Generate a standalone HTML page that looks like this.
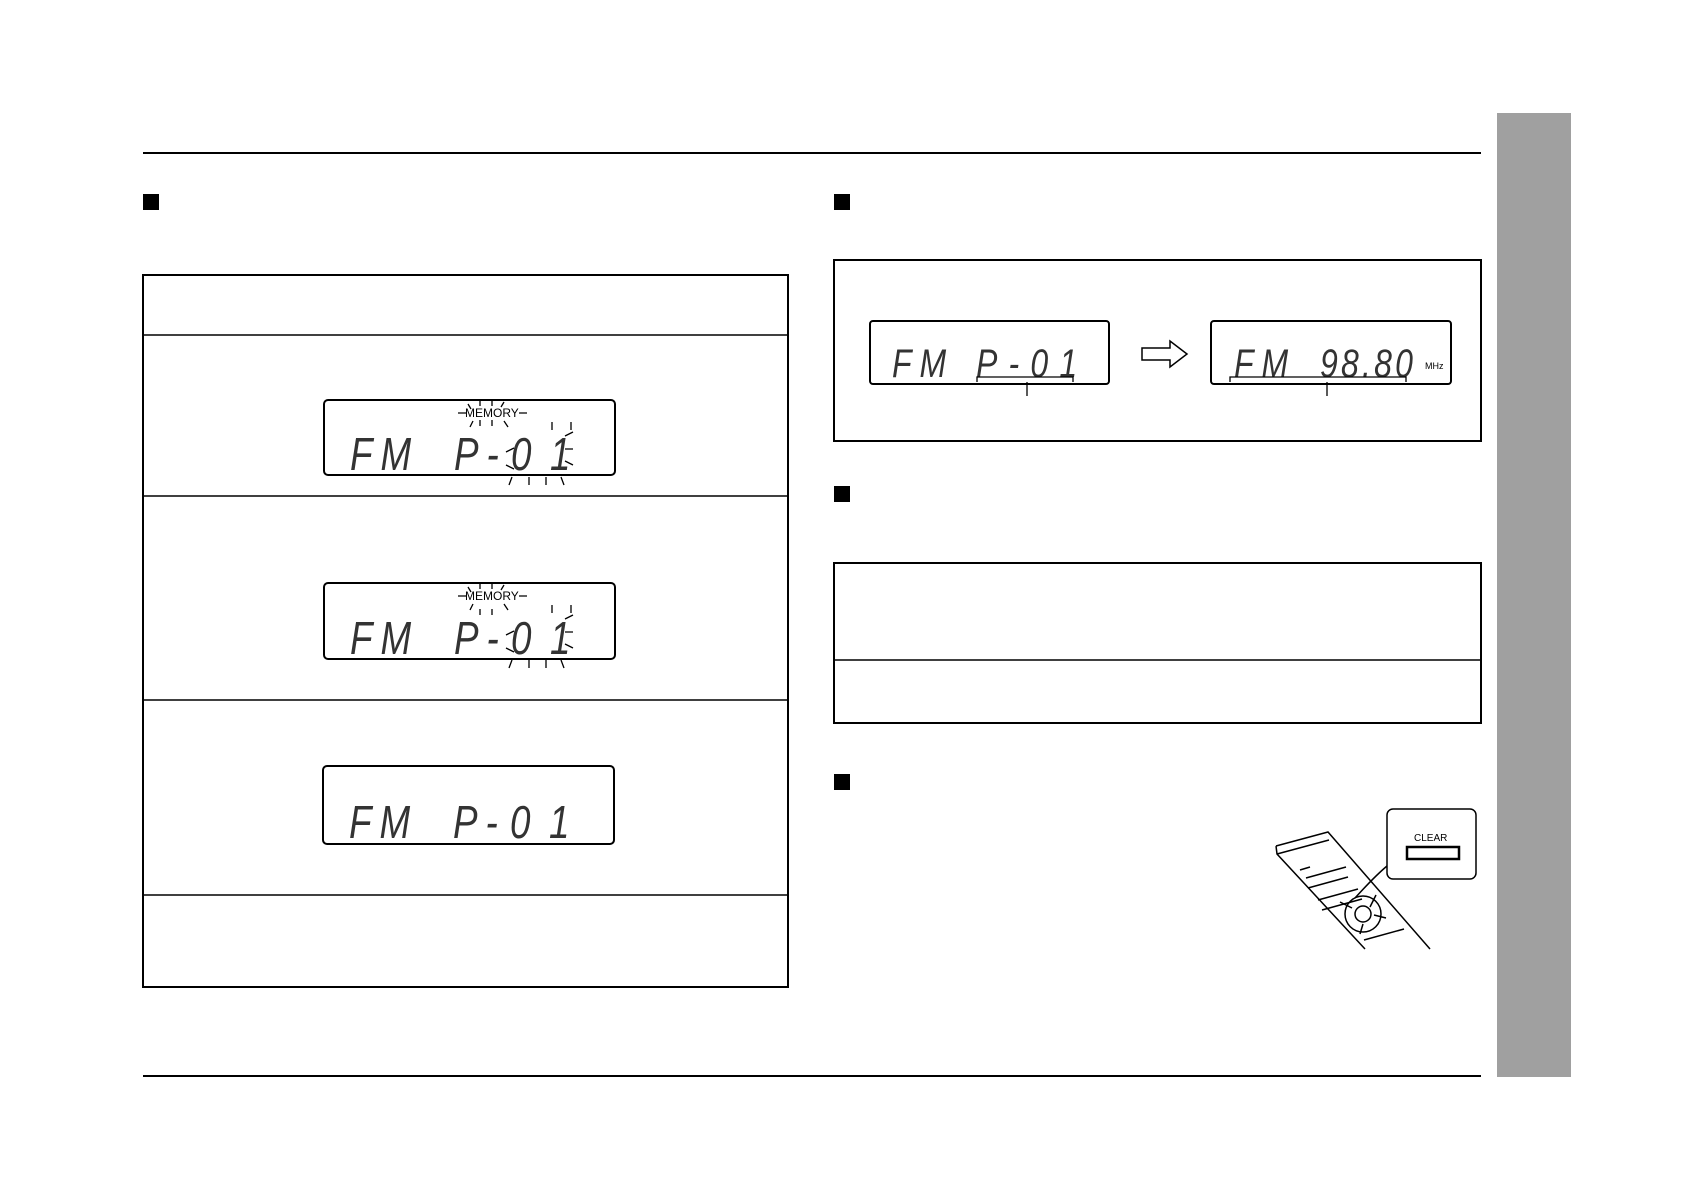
<!DOCTYPE html>
<html><head><meta charset="utf-8"><style>
html,body{margin:0;padding:0;background:#fff}
svg{display:block}
.d{font-family:"Liberation Sans",sans-serif;font-style:italic;fill:#333;font-size:46px;letter-spacing:10px}
</style></head><body>
<svg width="1684" height="1190" viewBox="0 0 1684 1190" xmlns="http://www.w3.org/2000/svg">
<rect x="1497" y="113" width="74" height="964" fill="#a0a0a0"/>
<line x1="143" y1="153" x2="1481" y2="153" stroke="#000" stroke-width="2"/>
<line x1="143" y1="1076" x2="1481" y2="1076" stroke="#000" stroke-width="2"/>
<rect x="143" y="194" width="16" height="16" fill="#000"/>
<rect x="834" y="194" width="16" height="16" fill="#000"/>
<rect x="834" y="486" width="16" height="16" fill="#000"/>
<rect x="834" y="774" width="16" height="16" fill="#000"/>
<g fill="none" stroke="#000" stroke-width="2">
<rect x="143" y="275" width="645" height="712"/>
<line x1="143" y1="335" x2="788" y2="335" stroke-width="1.5"/>
<line x1="143" y1="496" x2="788" y2="496" stroke-width="1.5"/>
<line x1="143" y1="700" x2="788" y2="700" stroke-width="1.5"/>
<line x1="143" y1="895" x2="788" y2="895" stroke-width="1.5"/>
<rect x="324" y="400" width="291" height="75" rx="4"/>
<rect x="324" y="583" width="291" height="76" rx="4"/>
<rect x="323" y="766" width="291" height="78" rx="4"/>
<rect x="834" y="260" width="647" height="181"/>
<rect x="870" y="321" width="239" height="63" rx="3"/>
<rect x="1211" y="321" width="240" height="63" rx="3"/>
<rect x="834" y="563" width="647" height="160"/>
<line x1="834" y1="660" x2="1481" y2="660" stroke-width="1.5"/>
</g>
<g class="d">
<text x="350" y="470" transform="translate(350 0) scale(0.8 1) translate(-350 0)">FM</text>
<text x="454" y="470" transform="translate(454 0) scale(0.8 1) translate(-454 0)">P-</text>
<text x="511" y="470" transform="translate(511 0) scale(0.8 1) translate(-511 0)">0</text>
<text x="550" y="470" transform="translate(550 0) scale(0.8 1) translate(-550 0)">1</text>
<text x="350" y="654" transform="translate(350 0) scale(0.8 1) translate(-350 0)">FM</text>
<text x="454" y="654" transform="translate(454 0) scale(0.8 1) translate(-454 0)">P-</text>
<text x="511" y="654" transform="translate(511 0) scale(0.8 1) translate(-511 0)">0</text>
<text x="550" y="654" transform="translate(550 0) scale(0.8 1) translate(-550 0)">1</text>
<text x="349" y="838" transform="translate(349 0) scale(0.8 1) translate(-349 0)">FM</text>
<text x="453" y="838" transform="translate(453 0) scale(0.8 1) translate(-453 0)">P-</text>
<text x="510" y="838" transform="translate(510 0) scale(0.8 1) translate(-510 0)">0</text>
<text x="549" y="838" transform="translate(549 0) scale(0.8 1) translate(-549 0)">1</text>
<text x="892" y="377" style="font-size:40px" transform="translate(892 0) scale(0.8 1) translate(-892 0)">FM</text>
<text x="976" y="377" style="font-size:40px;letter-spacing:14px" transform="translate(976 0) scale(0.8 1) translate(-976 0)">P-01</text>
<text x="1234" y="377" style="font-size:40px" transform="translate(1234 0) scale(0.8 1) translate(-1234 0)">FM</text>
<text x="1320" y="377" style="font-size:40px;letter-spacing:4px" transform="translate(1320 0) scale(0.8 1) translate(-1320 0)">98.80</text>
</g>
<g font-family="Liberation Sans,sans-serif" font-size="12" fill="#000">
<text x="465" y="417">MEMORY</text>
<text x="465" y="600">MEMORY</text>
<text x="1425" y="369" font-size="9">MHz</text>
<text x="1414" y="841" font-size="10">CLEAR</text>
</g>
<g stroke="#000" stroke-width="1.3" fill="none">
<path d="M458 413h8M519 413h8M506 452l8-4M506 465l8 4M565 436l8-4M565 449h8M565 461l8 4M509 485l3-8M529 485v-8M546 485v-8M564 485l-3-8M552 422v8M571 422v8M468 404l3 5M480 400v6M492 400v6M504 402l-3 5M470 427l3-6M480 426v-6M492 426v-6M504 421l4 6"/>
<path d="M458 596h8M519 596h8M506 635l8-4M506 648l8 4M565 619l8-4M565 632h8M565 644l8 4M509 668l3-8M529 668v-8M546 668v-8M564 668l-3-8M552 605v8M571 605v8M468 587l3 5M480 583v6M492 583v6M504 585l-3 5M470 610l3-6M480 609v6M492 609v6M504 604l4 6"/>
<path d="M977 382v-5h96v5M1027 382v14M1230 382v-5h176v5M1327 382v14"/>
</g>
<path d="M1142 348h28v-7l17 13-17 13v-7h-28z" fill="#fff" stroke="#000" stroke-width="1.5"/>
<g fill="none" stroke="#000" stroke-width="1.5">
<path d="M1276 846l52-14 102 117M1276 846l1 8 88 95M1277 854l52-14"/>
<path d="M1300 870l10-3M1306 878l40-11M1308 888l40-11M1318 900l40-11M1322 910l40-11M1364 940l40-11"/>
<circle cx="1363" cy="914" r="8"/><circle cx="1363" cy="914" r="18"/>
<path d="M1340 902l12 6M1376 895l-6 12M1386 918l-12-3M1360 934l3-10"/>
<path d="M1355 898q20-22 32-32"/>
<rect x="1387" y="809" width="89" height="70" rx="6"/>
<rect x="1407" y="847" width="52" height="12" stroke-width="2.5"/>
</g>
</svg>
</body></html>
